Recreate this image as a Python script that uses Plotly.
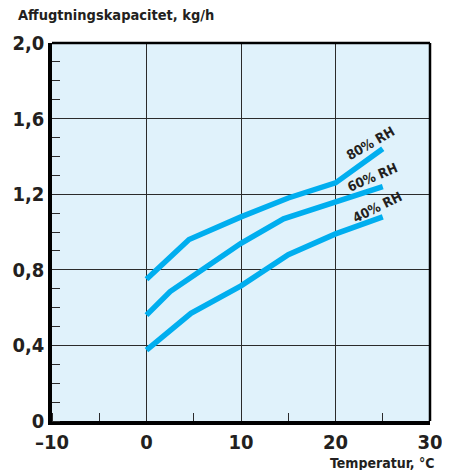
import plotly.graph_objects as go

# Data
temp_80 = [0, 4.5, 10, 15, 20, 25]
cap_80 = [0.75, 0.96, 1.08, 1.18, 1.26, 1.44]
temp_60 = [0, 2.5, 5, 10, 14.5, 20, 25]
cap_60 = [0.56, 0.685, 0.77, 0.94, 1.07, 1.16, 1.24]
temp_40 = [0, 4.7, 10, 15, 20, 25]
cap_40 = [0.375, 0.57, 0.715, 0.88, 0.99, 1.08]

series_names = ["80% RH", "60% RH", "40% RH"]

x_ticks = [-10, 0, 10, 20, 30]
x_labels = ["–10", "0", "10", "20", "30"]
y_ticks = [0, 0.4, 0.8, 1.2, 1.6, 2.0]
y_labels = ["0", "0,4", "0,8", "1,2", "1,6", "2,0"]

FONT = "Liberation Sans Narrow, DejaVu Sans Condensed, Arial Narrow, sans-serif"
LINE_COLOR = "#00aeef"
TEXT_COLOR = "#231f20"

fig = go.Figure()
for xs, ys, name in [(temp_80, cap_80, series_names[0]),
                     (temp_60, cap_60, series_names[1]),
                     (temp_40, cap_40, series_names[2])]:
    fig.add_trace(go.Scatter(x=xs, y=ys, mode="lines", name=name,
                             line=dict(color=LINE_COLOR, width=5.5),
                             showlegend=False))

# Curve labels
label_pos = [(23.7, 1.47, -30), (23.9, 1.29, -23), (24.4, 1.13, -26)]
for (lx, ly, ang), name in zip(label_pos, series_names):
    fig.add_annotation(x=lx, y=ly, xref="x", yref="y", text=name, showarrow=False,
                       textangle=ang,
                       font=dict(family=FONT, size=13.5, color=TEXT_COLOR, weight="bold"))

# Axis titles
fig.add_annotation(x=0, y=1, xref="paper", yref="paper", text="Affugtningskapacitet, kg/h",
                   showarrow=False, xanchor="left", yanchor="middle",
                   xshift=-36, yshift=28,
                   font=dict(family=FONT, size=14.5, color=TEXT_COLOR, weight="bold"))
fig.add_annotation(x=1, y=0, xref="paper", yref="paper", text="Temperatur, °C",
                   showarrow=False, xanchor="right", yanchor="top", xshift=7, yshift=-32,
                   font=dict(family=FONT, size=14, color=TEXT_COLOR, weight="bold"))

# Border top/right
fig.add_shape(type="line", xref="paper", yref="paper", x0=0, x1=1, y0=1, y1=1,
              line=dict(color="black", width=2.5))
fig.add_shape(type="line", xref="paper", yref="paper", x0=1, x1=1, y0=0, y1=1,
              line=dict(color="black", width=2.5))

# The page body adds an 8px offset, so the figure is 8px smaller with matching margins
fig.update_layout(
    width=442, height=462,
    margin=dict(l=44, r=20, t=35, b=49),
    paper_bgcolor="white",
    plot_bgcolor="#e0f2fb",
    font=dict(family=FONT, color=TEXT_COLOR),
    xaxis=dict(range=[-10, 30], tickvals=x_ticks, ticktext=x_labels,
               automargin=False,
               showgrid=True, gridcolor="#2b2b2b", gridwidth=1.3,
               showline=True, linecolor="black", linewidth=3.5,
               ticks="", zeroline=False,
               tickfont=dict(family=FONT, size=20, color=TEXT_COLOR, weight="bold"),
               minor=dict(dtick=5, tick0=-10, ticks="inside", ticklen=8, tickwidth=1.3,
                          tickcolor="#2b2b2b", showgrid=False),
               fixedrange=True),
    yaxis=dict(range=[0, 2.0], tickvals=y_ticks, ticktext=y_labels,
               automargin=False,
               showgrid=True, gridcolor="#2b2b2b", gridwidth=1.3,
               showline=True, linecolor="black", linewidth=3.5,
               ticks="", zeroline=False,
               tickfont=dict(family=FONT, size=20, color=TEXT_COLOR, weight="bold"),
               minor=dict(dtick=0.1, tick0=0, ticks="inside", ticklen=8, tickwidth=1.3,
                          tickcolor="#2b2b2b", showgrid=False),
               fixedrange=True),
)

fig.write_html("out.html")
